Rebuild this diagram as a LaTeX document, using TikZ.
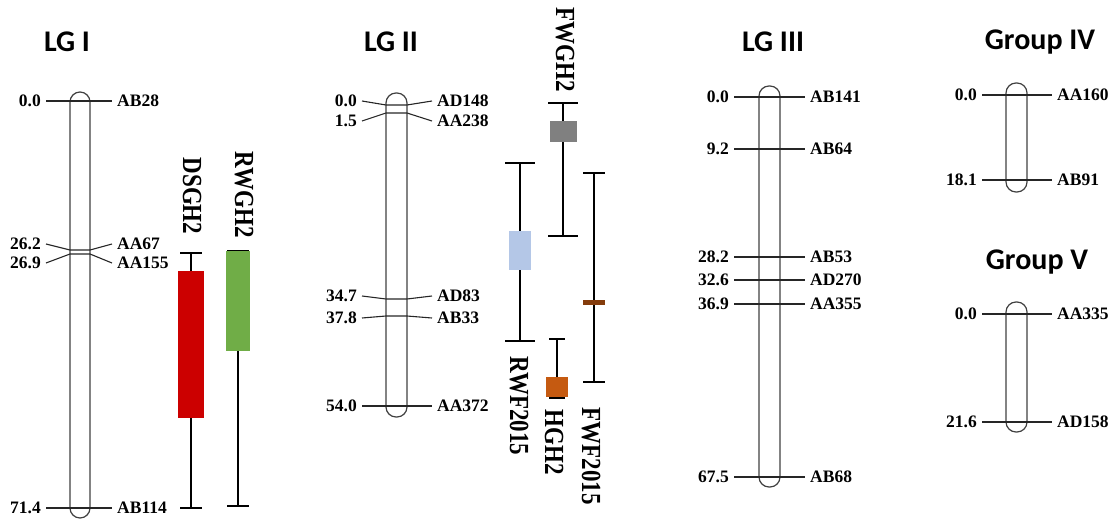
\documentclass[tikz,border=0pt]{standalone}
\usepackage{fontspec}
\setmainfont{Liberation Serif}
\newfontfamily\headfont{Carlito}
\definecolor{qred}{RGB}{204,0,0}
\definecolor{qgreen}{RGB}{112,173,71}
\definecolor{qblue}{RGB}{180,199,231}
\definecolor{qgray}{RGB}{128,128,128}
\definecolor{qorange}{RGB}{197,90,17}
\definecolor{qbrown}{RGB}{132,60,12}

\begin{document}
\begin{tikzpicture}[x=1pt,y=-1pt,
  mk/.style={font=\fontsize{17.5}{20}\selectfont\bfseries,inner xsep=5pt,inner ysep=0pt},
  tick/.style={black!85,line width=1.1pt},
  chrom/.style={draw=black!75,line width=1.2pt,rounded corners=10pt},
  head/.style={font=\headfont\fontsize{30}{34}\selectfont\bfseries},
  qtl/.style={font=\fontsize{23}{26}\selectfont\bfseries,rotate=-90,yscale=1.2},
  bar/.style={black,line width=2pt}]
\useasboundingbox (0,0) rectangle (1115,524);

% group titles
\node[head] (hI) at (67,42) {LG I};
\node[head] (hII) at (391,42) {LG II};
\node[head] (hIII) at (773,42) {LG III};
\node[head] (hIV) at (1040,42) {Group IV};
\node[head] (hV) at (1037,262) {Group V};

% LG I
\draw[chrom] (70,92) rectangle (90,518);
\foreach \i/\y/\ly/\cm/\nm in {1/101/101/0.0/AB28, 2/250/244/26.2/AA67,
    3/254/263/26.9/AA155, 4/508/508/71.4/AB114}{
  \node[mk,anchor=east] (Ic\i) at (46,\ly) {\cm};
  \node[mk,anchor=west] (Im\i) at (112,\ly) {\nm};
  \coordinate (Ia\i) at (70,\y);
  \coordinate (Ib\i) at (90,\y);
  \draw[tick] (Ic\i.east) -- (Ia\i) -- (Ib\i) -- (Im\i.west);
}

% LG II
\draw[chrom] (386,93) rectangle (407,417);
\foreach \i/\y/\ly/\cm/\nm in {1/105/101/0.0/AD148, 2/113/121/1.5/AA238,
    3/299/296/34.7/AD83, 4/316/318/37.8/AB33, 5/406/406/54.0/AA372}{
  \node[mk,anchor=east] (IIc\i) at (362,\ly) {\cm};
  \node[mk,anchor=west] (IIm\i) at (432,\ly) {\nm};
  \coordinate (IIa\i) at (386,\y);
  \coordinate (IIb\i) at (407,\y);
  \draw[tick] (IIc\i.east) -- (IIa\i) -- (IIb\i) -- (IIm\i.west);
}

% LG III
\draw[chrom] (759,86) rectangle (780,487);
\foreach \i/\y/\cm/\nm in {1/97/0.0/AB141, 2/149/9.2/AB64, 3/257/28.2/AB53,
    4/280/32.6/AD270, 5/304/36.9/AA355, 6/477/67.5/AB68}{
  \node[mk,anchor=east] (IIIc\i) at (734,\y) {\cm};
  \node[mk,anchor=west] (IIIm\i) at (805,\y) {\nm};
  \draw[tick] (IIIc\i.east) -- (IIIm\i.west);
}

% Group IV and V
\draw[chrom] (1006,83) rectangle (1027,192);
\draw[chrom] (1006,302) rectangle (1027,432);
\foreach \i/\y/\cm/\nm in {1/95/0.0/AA160, 2/180/18.1/AB91,
    3/314/0.0/AA335, 4/422/21.6/AD158}{
  \node[mk,anchor=east] (Gc\i) at (982,\y) {\cm};
  \node[mk,anchor=west] (Gm\i) at (1052,\y) {\nm};
  \draw[tick] (Gc\i.east) -- (Gm\i.west);
}

% QTL intervals
\foreach \nm/\x/\yt/\yb/\cw/\bw/\ba/\bb/\col in {DSGH2/191/253/508/11/13/271/418/qred,
    RWGH2/238/251/506/11/12/251/351/qgreen, RWF2015/520/163/341/15/11/231/270/qblue,
    FWGH2/563/103/236/15/13.5/121/142/qgray, HGH2/557/339/398/8/11/377/397/qorange,
    FWF2015/594/173/382/11/11/300/305/qbrown}{
  \coordinate (\nm t) at (\x,\yt);
  \coordinate (\nm b) at (\x,\yb);
  \draw[bar] (\nm t) -- (\nm b);
  \draw[bar] ([xshift=-\cw pt]\nm t) -- ([xshift=\cw pt]\nm t);
  \draw[bar] ([xshift=-\cw pt]\nm b) -- ([xshift=\cw pt]\nm b);
  \fill[\col] ({\x-\bw},\ba) rectangle ({\x+\bw},\bb);
}
\node[qtl] (lDSGH2) at (192,196) {DSGH2};
\node[qtl] (lRWGH2) at (244,195) {RWGH2};
\node[qtl] (lRWF2015) at (519,406) {RWF2015};
\node[qtl] (lFWGH2) at (565,50) {FWGH2};
\node[qtl] (lHGH2) at (554,442) {HGH2};
\node[qtl] (lFWF2015) at (591,456) {FWF2015};
\end{tikzpicture}
\end{document}
